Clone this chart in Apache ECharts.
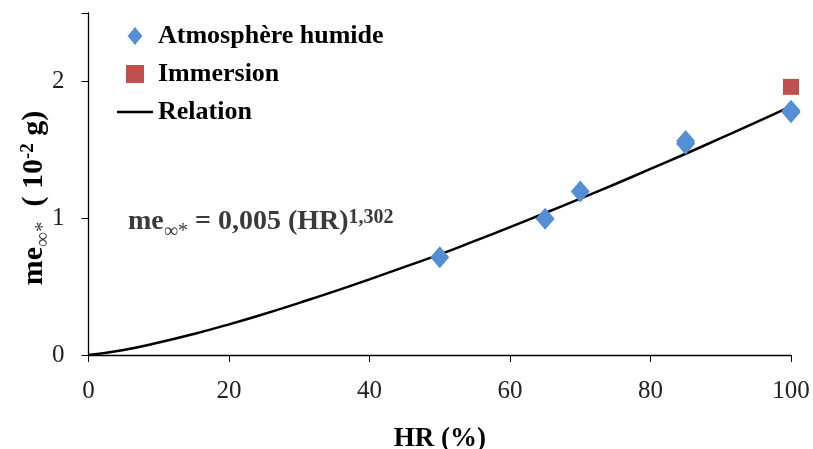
<!DOCTYPE html>
<html>
<head>
<meta charset="utf-8">
<script src="https://cdn.jsdelivr.net/npm/echarts@6/dist/echarts.min.js"></script>
<style>
  html, body { margin: 0; padding: 0; background: #fff; }
</style>
</head>
<body>
<div id="chart" style="width: 813px; height: 449px"></div>
<script>
// données
const humideHR = [50, 65, 70, 85, 85, 100, 100];
const humideMe = [0.715, 0.996, 1.195, 1.545, 1.565, 1.775, 1.785];
const immersionHR = [100];
const immersionMe = [1.96];
const relationHR = [0, 5, 10, 15, 20, 25, 30, 35, 40, 45, 50, 55, 60, 65, 70, 75, 80, 85, 90, 95, 100];
const relationMe = [0, 0.037, 0.091, 0.154, 0.224, 0.3, 0.381, 0.465, 0.553, 0.644, 0.735,
    0.834, 0.935, 1.038, 1.143, 1.25, 1.36, 1.471, 1.585, 1.7, 1.82];
const xTicks = [0, 20, 40, 60, 80, 100];
const yTicks = [0, 1, 2];

const serif = "Liberation Serif";
const blue = "#558ed5";
const red = "#c0504d";

const zip = (a, b) => a.map((v, i) => [v, b[i]]);

const chart = echarts.init(document.getElementById("chart"));

const option = {
    animation: false,
    grid: { left: 88.5, right: 22, top: 13, bottom: 94, outerBoundsMode: "none", containLabel: false },
    legend: {
        orient: "vertical",
        left: 112,
        top: 18,
        itemGap: 12,
        itemWidth: 36,
        itemHeight: 18,
        textStyle: { fontFamily: serif, fontSize: 26, fontWeight: "bold", color: "#000" },
        data: [
            { name: "Atmosphère humide", icon: "path://M0,-11L9,0L0,11L-9,0Z" },
            { name: "Immersion", icon: "path://M0,0L16,0L16,16L0,16Z" },
            { name: "Relation", icon: "path://M0,0L36,0L36,2.5L0,2.5Z" },
        ],
    },
    xAxis: {
        type: "value",
        min: 0,
        max: 100,
        interval: 20,
        name: "HR (%)",
        nameLocation: "middle",
        nameGap: 71,
        nameTextStyle: { fontFamily: serif, fontSize: 27, fontWeight: "bold", color: "#000" },
        axisLine: { lineStyle: { color: "#000", width: 1.3 } },
        axisTick: { show: true, length: 7, lineStyle: { color: "#000" } },
        axisLabel: {
            fontFamily: serif, fontSize: 25, color: "#222", margin: 24,
            formatter: (v) => (xTicks.includes(v) ? String(v) : ""),
        },
        splitLine: { show: false },
    },
    yAxis: {
        type: "value",
        min: 0,
        max: 2.5,
        interval: 1,
        axisLine: { show: true, lineStyle: { color: "#000", width: 1.3 } },
        axisTick: { show: true, length: 7, lineStyle: { color: "#000" } },
        axisLabel: {
            fontFamily: serif, fontSize: 25, color: "#222", margin: 24,
            formatter: (v) => (yTicks.includes(v) ? String(v) : ""),
        },
        splitLine: { show: false },
    },
    graphic: [
        {
            // titre de l'axe Y
            type: "text",
            x: 34,
            y: 198,
            rotation: Math.PI / 2,
            style: {
                text: "{b|me}{sub|∞*}{b|  ( 10}{sup|-2}{b| g)}",
                align: "center",
                verticalAlign: "middle",
                rich: {
                    b: { fontFamily: serif, fontSize: 30, fontWeight: "bold", fill: "#000", verticalAlign: "bottom" },
                    sub: { fontFamily: serif, fontSize: 21, fill: "#444", verticalAlign: "bottom", padding: [0, 0, -5, 0] },
                    sup: { fontFamily: serif, fontSize: 19, fontWeight: "bold", fill: "#000", verticalAlign: "top", padding: [0, 0, 8, 0] },
                },
            },
        },
        {
            // équation de la relation
            type: "text",
            left: 128,
            top: 208,
            style: {
                text: "{b|me}{sub|∞*}{b| = 0,005 (HR)}{sup|1,302}",
                rich: {
                    b: { fontFamily: serif, fontSize: 28, fontWeight: "bold", fill: "#3a3a3a", verticalAlign: "bottom" },
                    sub: { fontFamily: serif, fontSize: 20, fill: "#3a3a3a", verticalAlign: "bottom", padding: [0, 0, -6, 0] },
                    sup: { fontFamily: serif, fontSize: 20, fontWeight: "bold", fill: "#3a3a3a", verticalAlign: "top" },
                },
            },
        },
    ],
    series: [
        {
            name: "Relation",
            type: "line",
            data: zip(relationHR, relationMe),
            smooth: true,
            showSymbol: false,
            symbol: "none",
            lineStyle: { color: "#000", width: 2.5 },
            itemStyle: { color: "#000" },
            z: 2,
        },
        {
            name: "Atmosphère humide",
            type: "scatter",
            data: zip(humideHR, humideMe),
            symbol: "diamond",
            symbolSize: [19, 22],
            itemStyle: { color: blue, opacity: 1 },
            z: 3,
        },
        {
            name: "Immersion",
            type: "scatter",
            data: zip(immersionHR, immersionMe),
            symbol: "rect",
            symbolSize: 16,
            itemStyle: { color: red, opacity: 1 },
            z: 3,
        },
    ],
};

chart.setOption(option);
</script>
</body>
</html>
